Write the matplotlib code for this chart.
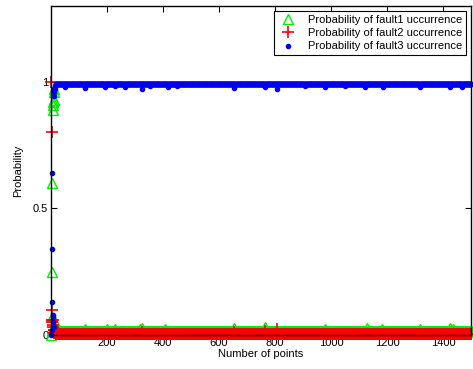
import numpy as np
import matplotlib
matplotlib.use("Agg")
import matplotlib.pyplot as plt

plt.rcParams["font.family"] = ["Liberation Sans", "DejaVu Sans"]

n_points = 1500

# first points (transient)
f1_early = [0.0, 0.02, 0.07, 0.25, 0.60, 0.89, 0.91, 0.92, 0.93, 0.96, 0.97, 0.93, 0.05, 0.03, 0.02, 0.016]
f2_early = [1.0, 0.80, 0.10, 0.06, 0.05, 0.04, 0.03, 0.06, 0.02, 0.02, 0.01, 0.02, 0.01, 0.01, 0.008, 0.006]
f3_early = [0.0, 0.02, 0.13, 0.34, 0.64, 0.05, 0.07, 0.08, 0.03, 0.945, 0.97, 0.96, 0.98, 0.97, 0.985, 0.99]

# steady values
f1_base = 0.015
f2_base = 0.004
f3_base = 0.992

# isolated deviations (point index -> value)
f1_spikes = {121: 0.025, 200: 0.022, 229: 0.022, 318: 0.025, 325: 0.028, 407: 0.022,
             654: 0.028, 764: 0.03, 979: 0.025, 1129: 0.028, 1182: 0.025, 1318: 0.022,
             1425: 0.028, 1436: 0.025}
f2_spikes = {325: 0.012, 654: 0.012, 764: 0.015, 807: 0.025}
f3_dips = {50: 0.98, 121: 0.975, 193: 0.98, 229: 0.982, 264: 0.98, 325: 0.97,
           354: 0.982, 418: 0.98, 450: 0.982, 654: 0.975, 764: 0.978, 807: 0.97,
           907: 0.982, 979: 0.978, 1050: 0.982, 1121: 0.978, 1186: 0.98, 1318: 0.98,
           1425: 0.978, 1468: 0.98}


def build(early, base, extra):
    y = np.full(n_points, base)
    y[:len(early)] = early
    for k, v in extra.items():
        y[k - 1] = v
    return y


x = np.arange(1, n_points + 1)
p1 = build(f1_early, f1_base, f1_spikes)
p2 = build(f2_early, f2_base, f2_spikes)
p3 = build(f3_early, f3_base, f3_dips)

fig = plt.figure(figsize=(4.73, 3.69), dpi=100)
ax = fig.add_axes([0.108, 0.092, 0.888, 0.892])

ax.plot(x, p1, linestyle="none", marker="^", markersize=7, markerfacecolor="none",
        markeredgecolor="#00ee00", markeredgewidth=1.0, clip_on=False,
        label="Probability of fault1 uccurrence")
ax.plot(x, p2, linestyle="none", marker="+", markersize=9, color="red",
        markeredgewidth=1.2, clip_on=False, label="Probability of fault2 uccurrence")
ax.plot(x, p3, linestyle="none", marker=".", markersize=6, color="#0000ee",
        clip_on=False, label="Probability of fault3 uccurrence")

ax.set_xlim(0, 1500)
ax.set_ylim(0, 1.3)
ax.set_xticks([200, 400, 600, 800, 1000, 1200, 1400])
ax.set_yticks([0, 0.5, 1])
ax.set_yticklabels(["0", "0.5", "1"])
ax.tick_params(direction="in", top=True, right=True, labelsize=8, length=4, pad=2)
ax.set_xlabel("Number of points", fontsize=8, labelpad=1)
ax.set_ylabel("Probability", fontsize=8, labelpad=7)
for s in ax.spines.values():
    s.set_linewidth(1.0)

leg = ax.legend(loc="upper right", fontsize=8, fancybox=False, framealpha=1,
                edgecolor="black", borderaxespad=0.5, handletextpad=0.8,
                labelspacing=0.3, borderpad=0.3)
leg.get_frame().set_linewidth(0.8)

fig.savefig("out.png", dpi=100)
